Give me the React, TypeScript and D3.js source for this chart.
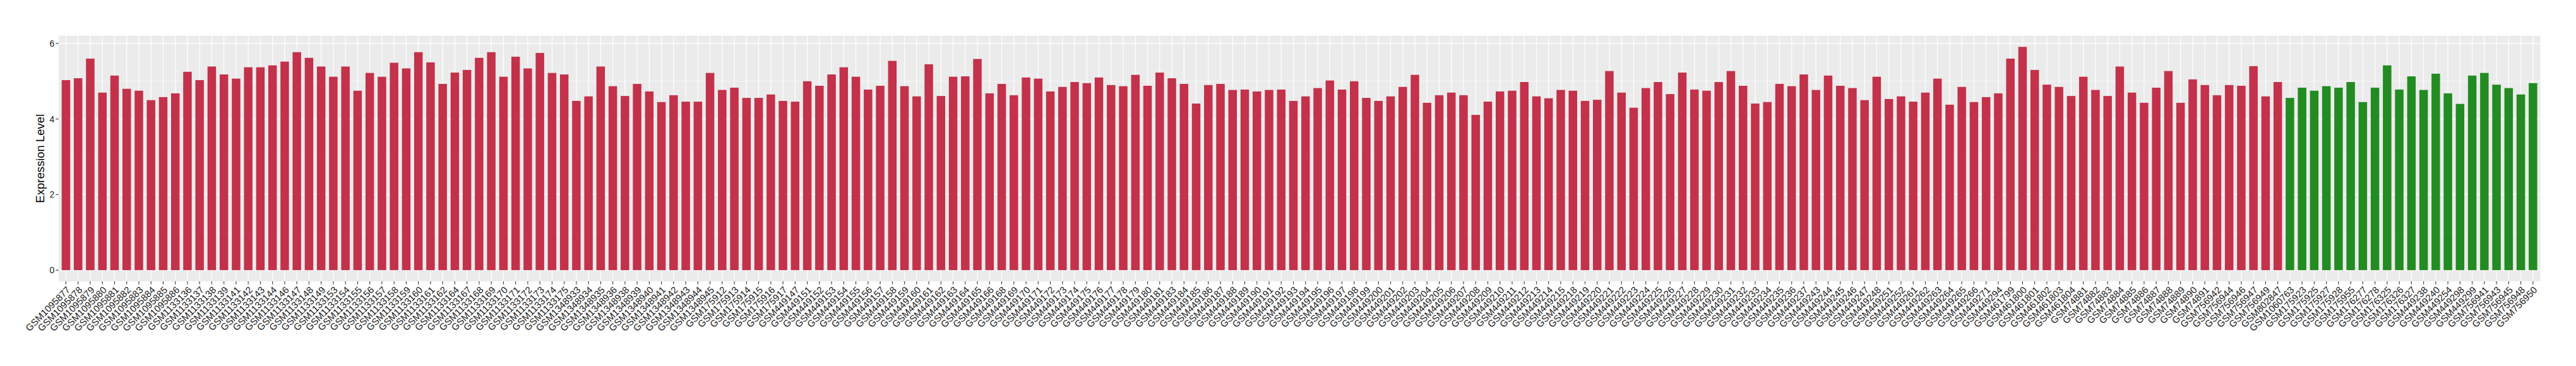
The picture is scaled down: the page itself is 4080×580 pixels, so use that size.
import React from "react";
import * as d3 from "d3";

const caseSamples = [
  "GSM1095877","GSM1095878","GSM1095879","GSM1095880","GSM1095881","GSM1095882","GSM1095883","GSM1095884","GSM1095885","GSM1095886",
  "GSM1133136","GSM1133137","GSM1133138","GSM1133139","GSM1133141","GSM1133142","GSM1133143","GSM1133144","GSM1133146","GSM1133147",
  "GSM1133148","GSM1133149","GSM1133153","GSM1133154","GSM1133155","GSM1133156","GSM1133157","GSM1133158","GSM1133159","GSM1133160",
  "GSM1133161","GSM1133162","GSM1133164","GSM1133167","GSM1133168","GSM1133169","GSM1133170","GSM1133171","GSM1133172","GSM1133173",
  "GSM1133174","GSM1133175",
  "GSM1348933","GSM1348934","GSM1348935","GSM1348936","GSM1348938","GSM1348939","GSM1348940","GSM1348941","GSM1348942","GSM1348943",
  "GSM1348944","GSM1348945",
  "GSM175912","GSM175913","GSM175914","GSM175915","GSM175916","GSM175917",
  "GSM449147","GSM449151","GSM449152","GSM449153","GSM449154","GSM449155","GSM449156","GSM449157","GSM449158","GSM449159",
  "GSM449160","GSM449161","GSM449162","GSM449163","GSM449164","GSM449165","GSM449166","GSM449168","GSM449169","GSM449170",
  "GSM449171","GSM449172","GSM449173","GSM449174","GSM449175","GSM449176","GSM449177","GSM449178","GSM449179","GSM449180",
  "GSM449181","GSM449183","GSM449184","GSM449185","GSM449186","GSM449187","GSM449188","GSM449189","GSM449190","GSM449191",
  "GSM449192","GSM449193","GSM449194","GSM449195","GSM449196","GSM449197","GSM449198","GSM449199","GSM449200","GSM449201",
  "GSM449202","GSM449203","GSM449204","GSM449205","GSM449206","GSM449207","GSM449208","GSM449209","GSM449210","GSM449211",
  "GSM449212","GSM449213","GSM449214","GSM449215","GSM449218","GSM449219","GSM449220","GSM449221","GSM449222","GSM449223",
  "GSM449224","GSM449225","GSM449226","GSM449227","GSM449228","GSM449229","GSM449230","GSM449231","GSM449232","GSM449233",
  "GSM449234","GSM449235","GSM449236","GSM449237","GSM449243","GSM449244","GSM449245","GSM449246","GSM449247","GSM449248",
  "GSM449251","GSM449252","GSM449261","GSM449262","GSM449263","GSM449264","GSM449265","GSM449266","GSM449271","GSM449294",
  "GSM461799","GSM461800","GSM461801","GSM461802","GSM461803","GSM461804",
  "GSM74881","GSM74882","GSM74883","GSM74884","GSM74885","GSM74886","GSM74887","GSM74888","GSM74889","GSM74890","GSM74891",
  "GSM756942","GSM756944","GSM756946","GSM756947","GSM756949",
  "GSM802847",
];

const caseValues = [
  5.03,5.08,5.60,4.70,5.15,4.80,4.75,4.50,4.58,4.68,
  5.25,5.03,5.39,5.18,5.07,5.37,5.37,5.42,5.52,5.77,
  5.62,5.39,5.12,5.39,4.75,5.22,5.12,5.49,5.34,5.77,
  5.50,4.93,5.23,5.30,5.62,5.77,5.12,5.65,5.34,5.75,
  5.22,5.18,4.48,4.60,5.39,4.87,4.61,4.93,4.73,4.45,
  4.63,
  4.46,4.46,5.22,4.77,4.83,4.56,4.56,4.65,4.48,4.46,
  5.00,4.88,5.18,5.37,5.12,4.78,4.88,5.54,4.87,4.60,
  5.45,4.61,5.12,5.13,5.59,4.68,4.93,4.63,5.10,5.07,
  4.73,4.85,4.98,4.95,5.10,4.90,4.87,5.17,4.88,5.23,
  5.08,4.93,4.41,4.90,4.93,4.77,4.78,4.73,4.77,4.78,
  4.48,
  4.60,4.82,5.02,4.78,5.00,4.56,4.48,4.60,4.85,5.17,
  4.43,4.63,4.70,4.63,4.11,4.46,4.73,4.75,4.98,4.60,
  4.55,4.77,4.75,4.48,4.51,5.27,4.70,4.30,4.82,4.98,
  4.66,5.23,4.78,4.75,4.98,5.27,4.88,4.41,4.45,4.93,
  4.87,5.18,4.77,5.15,4.88,4.82,4.50,5.12,4.53,4.60,
  4.46,
  4.70,5.07,4.38,4.85,4.45,4.58,4.68,5.60,5.91,5.30,
  4.91,4.85,4.61,5.12,4.77,4.61,5.39,4.70,4.43,4.83,
  5.27,4.43,5.05,4.90,4.63,4.90,4.88,5.40,4.60,4.98,
];

const controlSamples = [
  "GSM1060763","GSM175923","GSM175925","GSM175927","GSM175928","GSM175955","GSM176277","GSM176278",
  "GSM176325","GSM176326","GSM176327","GSM449238","GSM449240","GSM449254","GSM449298","GSM449299",
  "GSM756941","GSM756943","GSM756945","GSM756948","GSM756950",
];

const controlValues = [
  4.56,4.83,4.75,4.87,4.83,4.98,4.45,4.83,5.42,4.78,
  5.13,4.77,5.20,4.68,4.40,5.15,5.22,4.91,4.82,4.65,
  4.95,
];

const yTicks = [0, 2, 4, 6];
const yMinor = [1, 3, 5];
const yTitle = "Expression Level";

const CASE_COLOR = "#C3314A";
const CONTROL_COLOR = "#228B22";

type Row = { sample: string; value: number; group: "case" | "control" };

const rows: Row[] = [
  ...caseSamples.map((s, i) => ({ sample: s, value: caseValues[i], group: "case" as const })),
  ...controlSamples.map((s, i) => ({ sample: s, value: controlValues[i], group: "control" as const })),
];

export default function App() {
  const W = 4080;
  const H = 580;
  const left = 92.9;
  const right = 4023.4;
  const top = 56.6;
  const bottom = 445.8;

  const x = d3
    .scaleBand<string>()
    .domain(rows.map((r) => r.sample))
    .range([left, right])
    .paddingInner(0.3)
    .paddingOuter(0.25);

  const maxV = d3.max(rows, (r) => r.value) as number;
  const y = d3
    .scaleLinear()
    .domain([-0.05 * maxV, 1.05 * maxV])
    .range([bottom, top]);

  const bw = x.bandwidth();
  const font = "'Liberation Sans', Arial, Helvetica, sans-serif";
  const textColor = "#1A1A1A";

  return (
    <svg
      width={W}
      height={H}
      style={{ position: "absolute", left: 0, top: 0, background: "#fff" }}
      fontFamily={font}
    >
      <rect x={left} y={top} width={right - left} height={bottom - top} fill="#EBEBEB" />
      {yMinor.map((t) => (
        <line key={"mn" + t} x1={left} x2={right} y1={y(t)} y2={y(t)} stroke="#fff" strokeWidth={0.6} />
      ))}
      {yTicks.map((t) => (
        <line key={"mj" + t} x1={left} x2={right} y1={y(t)} y2={y(t)} stroke="#fff" strokeWidth={1.2} />
      ))}
      {rows.map((r) => {
        const cx = (x(r.sample) as number) + bw / 2;
        return <line key={"vg" + r.sample} x1={cx} x2={cx} y1={top} y2={bottom} stroke="#fff" strokeWidth={1.2} />;
      })}
      {rows.map((r) => (
        <rect
          key={"b" + r.sample}
          x={x(r.sample) as number}
          y={y(r.value)}
          width={bw}
          height={y(0) - y(r.value)}
          fill={r.group === "case" ? CASE_COLOR : CONTROL_COLOR}
        />
      ))}
      {yTicks.map((t) => (
        <g key={"yt" + t}>
          <line x1={left - 4.6} x2={left} y1={y(t)} y2={y(t)} stroke="#333" strokeWidth={1.1} />
          <text x={left - 6.5} y={y(t)} dy="0.35em" textAnchor="end" fontSize={14} fill={textColor}>
            {t}
          </text>
        </g>
      ))}
      <text
        transform={`translate(69.5, ${(top + bottom) / 2}) rotate(-90)`}
        textAnchor="middle"
        fontSize={18.5}
        fill="#000"
      >
        {yTitle}
      </text>
      {rows.map((r) => {
        const cx = (x(r.sample) as number) + bw / 2;
        return (
          <g key={"xt" + r.sample}>
            <line x1={cx} x2={cx} y1={bottom} y2={bottom + 4.6} stroke="#333" strokeWidth={1.1} />
            <text
              transform={`translate(${cx}, ${bottom + 7}) rotate(-45)`}
              textAnchor="end"
              dy="0.72em"
              fontSize={15}
              fill={textColor}
            >
              {r.sample}
            </text>
          </g>
        );
      })}
    </svg>
  );
}
